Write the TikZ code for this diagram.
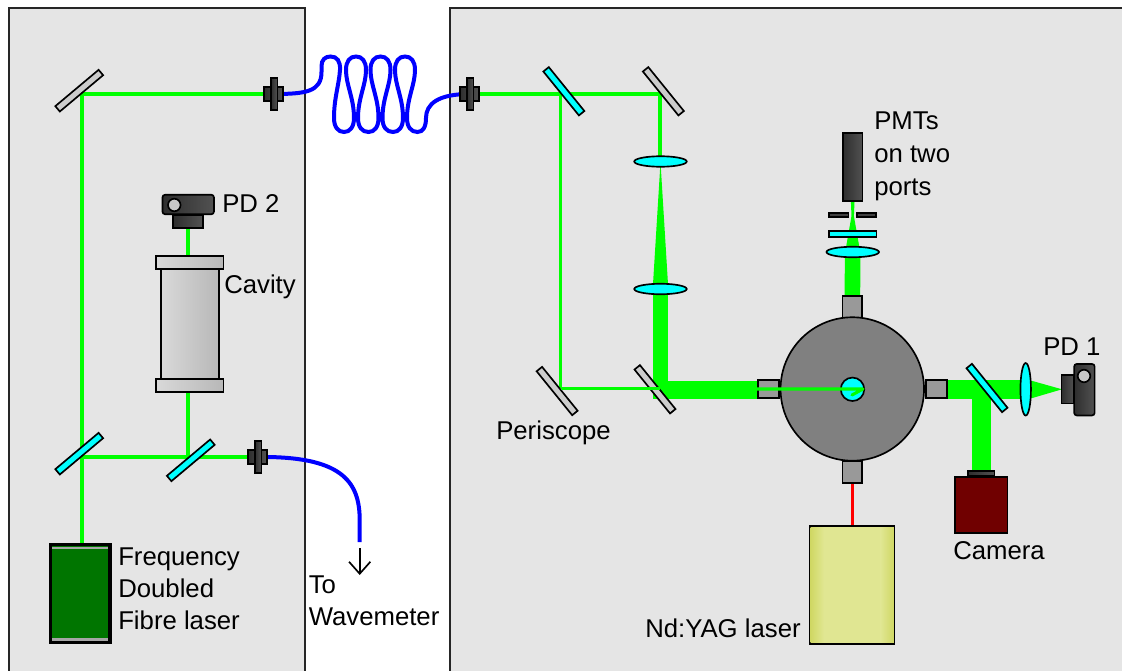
\documentclass[tikz,border=0pt]{standalone}
\usepackage{fontspec}
\setmainfont{Liberation Sans}
\usetikzlibrary{arrows.meta,shapes.geometric}
\pgfdeclarelayer{panels}\pgfdeclarelayer{beams}
\pgfsetlayers{panels,beams,main}
\definecolor{laserdark}{RGB}{0,117,0}
\definecolor{camerared}{RGB}{112,0,0}
\definecolor{glass}{RGB}{0,255,255}
\definecolor{yagpale}{RGB}{224,230,146}
\definecolor{yagedge}{RGB}{208,216,100}
\tikzset{>=Latex, dims/.style 2 args={minimum width=(#1-1.5)*.75pt, minimum height=(#2-1.5)*.75pt},
part/.style={draw=black, line width=1.25pt, inner sep=0pt},
mirror/.style={part, fill=black!20, dims={58}{8.5}},
splitter/.style={part, fill=glass, dims={58}{8.5}},
lensh/.style={part, ellipse, fill=glass, dims={54}{12}},
lensv/.style={part, ellipse, fill=glass, dims={12}{54}},
darkpart/.style={part, left color=black!82, right color=black!68},
lightpart/.style={part, left color=black!15, right color=black!28},
portbox/.style={part, fill=black!40},
eye/.style={part, circle, fill=black!22, minimum size=9.4pt},
strip/.style={fill=black!35, inner sep=0pt, minimum width=42pt, minimum height=2.2pt},
panel/.style={fill=black!10, draw=black!85, line width=1pt},
beam/.style={draw=green, line width=2.3pt},
beamwide/.style={draw=green, line width=14pt},
beamnarrow/.style={draw=green, line width=11.7pt},
fibre/.style={draw=blue, line width=3pt},
note/.style={font=\fontsize{19.3}{24}\selectfont, align=left, anchor=west, inner sep=0pt}}

\begin{document}
\begin{tikzpicture}[x=.75pt,y=-.75pt]
\useasboundingbox (0,0) rectangle (1122,671);
\clip (0,0) rectangle (1122,671);
% Coupler: body and flange
\def\coupler#1#2#3{
  \node[darkpart, dims={21}{15}] (#1) at (#2,#3) {};
  \node[darkpart, dims={8}{33}] (#1f) at (#2+.7,#3) {};
}
% Free ends and bends
\coordinate (bendc) at (653,390);
\coordinate (fibend) at (359.7,542);
\coordinate (arrowa) at (359.7,548);
\coordinate (arrowb) at (359.7,575);
\coordinate (tipa) at (863,389);
\coordinate (tipb) at (852,395);
\coordinate (stopa) at (659.5,388.3);
% Left optics
\node[mirror, rotate=40, anchor=south] (ma) at (82,94) {};
\node[splitter, rotate=40, anchor=south] (spa) at (82,457) {};
\node[splitter, rotate=40, anchor=north] (spb) at (188,457) {};
\coupler{cpa}{273.5}{94}
\coupler{cpb}{469.5}{94}
\coupler{cpc}{257.5}{457}
% Fibre laser
\node[part, line width=2.4pt, fill=laserdark, dims={61}{100}] (fibrelaser) at (80.2,593.5) {};
\node[strip] (stripa) at (80.2,548) {};
\node[strip] (stripb) at (80.2,639.7) {};
% Cavity
\node[lightpart, dims={59}{112}] (cavity) at (190,324) {};
\node[lightpart, dims={69}{14}] (captop) at (189.8,262.5) {};
\node[lightpart, dims={69}{14}] (capbot) at (189.8,385.5) {};
% PD 2
\node[darkpart, dims={31}{14}] (pdbneck) at (188,221.5) {};
\node[darkpart, rounded corners=2pt, dims={53}{21}] (pdb) at (188.2,204.5) {};
\node[eye] (pdbeye) at (174.3,205) {};
% Right optics
\node[splitter, rotate=-51, anchor=south] (spc) at (560.5,94) {};
\node[mirror, rotate=-51, anchor=south] (mb) at (660,94) {};
\node[mirror, rotate=-51, anchor=north] (mc) at (560.5,388.3) {};
\node[mirror, rotate=-51] (md) at (655,389.3) {};
\node[splitter, rotate=-51] (spd) at (987,388) {};
\node[lensh] (lensa) at (660.5,161.5) {};
\node[lensh] (lensb) at (660.5,289) {};
\node[lensh] (lensd) at (852.7,252) {};
\node[lensv] (lensc) at (1025.7,389.3) {};
% PMT stack
\node[darkpart, dims={21}{70}] (pmt) at (852.7,167) {};
\node[part, fill=black!75, dims={21}{6}] (slita) at (838.8,215) {};
\node[part, fill=black!75, dims={21}{6}] (slitb) at (866.5,215) {};
\node[part, fill=glass, dims={49}{7.5}] (filter) at (852.7,234.2) {};
% Chamber
\node[portbox, dims={23}{20}] (portl) at (768.5,389) {};
\node[portbox, dims={23}{20}] (portr) at (936.5,389) {};
\node[portbox, dims={21}{23}] (portt) at (852.3,307) {};
\node[portbox, dims={21}{23}] (portb) at (852.3,472) {};
\node[part, circle, fill=black!50, minimum size=107.6pt] (chamber) at (852.3,389) {};
\node[part, circle, fill=glass, minimum size=17.6pt] (centre) at (852.5,389.3) {};
% PD 1 and camera
\node[darkpart, dims={14}{30}] (pdaneck) at (1067.7,389.3) {};
\node[darkpart, rounded corners=2pt, dims={22}{53}] (pda) at (1084.4,389.7) {};
\node[eye] (pdaeye) at (1084,376) {};
\node[part, fill=camerared, dims={54}{57}] (camera) at (981.2,505) {};
\node[darkpart, dims={28}{7}] (camneck) at (981.2,473.5) {};
% Nd:YAG laser
\node[part, fill=yagpale, dims={86}{119}] (yag) at (852.3,585) {};
\node[inner sep=0pt, left color=yagedge, right color=yagpale, minimum width=10pt, minimum height=86.5pt] (yagl) at (817.3,585) {};
\node[inner sep=0pt, left color=yagpale, right color=yagedge, minimum width=10pt, minimum height=86.5pt] (yagr) at (887.3,585) {};
% Thin beams over the optics
\draw[beam] (mc.north) -- (stopa);
\draw[beam, line cap=round, line join=round] (portl.west |- tipa) -- (tipa) -- (tipb);
% Beams
\begin{pgfonlayer}{beams}
\draw[beam] (spa.south |- fibrelaser.north) -- (ma.south) -- (cpa.center);
\draw[beam] (spa.south) -- (cpc.center);
\draw[beam] (spb.north) -- (spb.north |- pdbneck.south);
\draw[beam] (cpb.center) -- (spc.south) -- (mb.south) -- (mb.south |- lensa.center);
\draw[beam] (spc.south) -- (mc.north);
\fill[green] (652.7,289) -- (660.5,162) -- (668.3,289) -- cycle;
\fill[green] (845.2,252) -- (851.5,216) -- (850.9,202) -- (854.5,202) -- (853.9,216) -- (860.2,252) -- cycle;
\fill[green] (1030,380.3) -- (1062,389.3) -- (1030,398.7) -- cycle;
\draw[beamnarrow] (lensb.center) -- (lensb.center |- portl.south);
\draw[beamwide] (bendc) -- (portl.center |- bendc);
\draw[beamwide] (portr.center |- centre) -- (lensc.center);
\draw[beamwide] (camneck.center |- portr.center) -- (camneck.center);
\draw[beamnarrow] (lensd.center) -- (portt.center);
\draw[draw=red, line width=2.3pt] (portb.south) -- (yag.north);
% Fibres
\draw[fibre] (cpa.center) .. controls (305,94) and (321.5,92) .. (321.5,72) -- (321.5,66)
  .. controls (321.5,60) and (325,56.5) .. (330.5,56.5)
  .. controls (337,56.5) and (340.5,61) .. (340,70)
  .. controls (339,85) and (334,98) .. (334,118)
  .. controls (334,127) and (338,132) .. (344,132)
  foreach \i in {0,1,2} {
  .. controls (350+24.5*\i,132) and (354+24.5*\i,127) .. (354+24.5*\i,118)
  .. controls (354+24.5*\i,98) and (346+24.5*\i,85) .. (346+24.5*\i,70)
  .. controls (346+24.5*\i,61) and (350+24.5*\i,56.5) .. (356+24.5*\i,56.5)
  .. controls (362+24.5*\i,56.5) and (366+24.5*\i,61) .. (366+24.5*\i,70)
  .. controls (366+24.5*\i,85) and (358+24.5*\i,98) .. (358+24.5*\i,118)
  .. controls (358+24.5*\i,127) and (362+24.5*\i,132) .. (368.5+24.5*\i,132)
  }
  .. controls (423,132) and (426,127) .. (426,118)
  .. controls (426,104) and (438,94) .. (cpb.center);
\draw[fibre] (cpc.center) .. controls (340,456) and (359.7,480) .. (359.7,520) -- (fibend);
\end{pgfonlayer}
\draw[-{Straight Barb[length=9pt,width=16pt]}, line width=1.25pt] (arrowa) -- (arrowb);
% Panels
\begin{pgfonlayer}{panels}
\draw[panel] (9,8) rectangle (305,690);
\draw[panel] (450,8) rectangle (1140,690);
\end{pgfonlayer}
% Labels
\node[note] (lpdb) at (222,204) {PD 2};
\node[note] (lcav) at (224,286.5) {Cavity};
\node[note] (lfib) at (118,588.5) {Frequency\\Doubled\\Fibre laser};
\node[note] (lwav) at (308.5,600.5) {To\\Wavemeter};
\node[note] (lper) at (496,433) {Periscope};
\node[note, font=\fontsize{19.3}{24.7}\selectfont] (lpmt) at (874,156) {PMTs\\on two\\ports};
\node[note] (lpda) at (1043,347) {PD 1};
\node[note] (lcam) at (953,551) {Camera};
\node[note] (lyag) at (645,628.5) {Nd:YAG laser};
\end{tikzpicture}
\end{document}
